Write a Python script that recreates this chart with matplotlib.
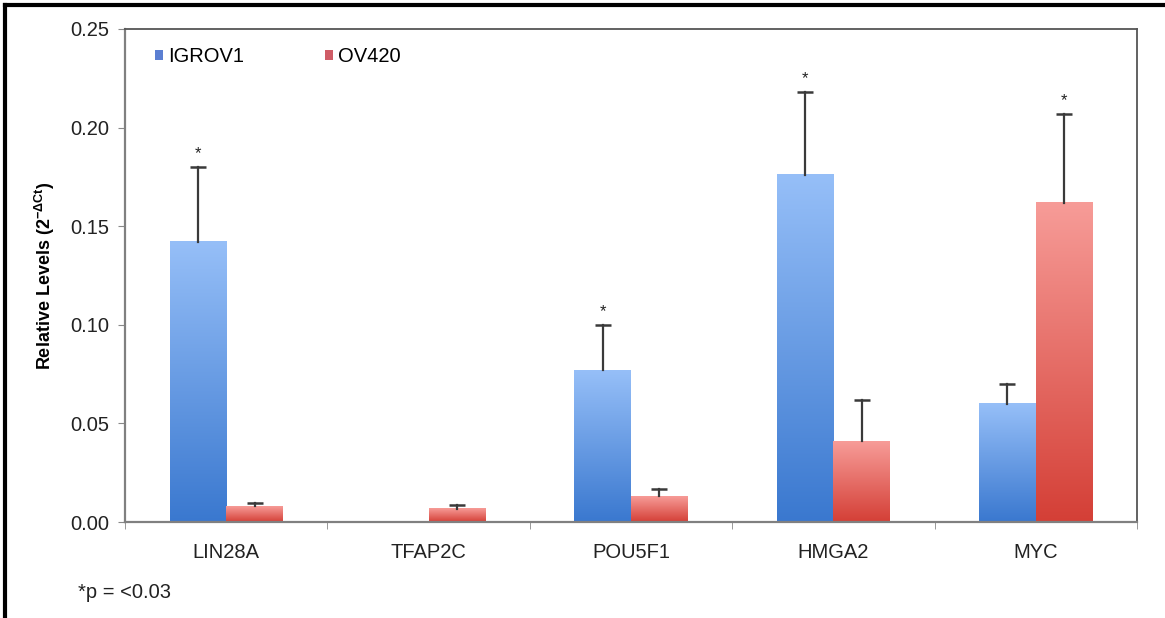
import numpy as np
import matplotlib
matplotlib.use('Agg')
import matplotlib.pyplot as plt
from matplotlib.colors import LinearSegmentedColormap
from matplotlib.patches import Patch
from matplotlib.lines import Line2D

plt.rcParams['font.family'] = ['Liberation Sans', 'DejaVu Sans']
plt.rcParams['mathtext.default'] = 'regular'

genes = ['LIN28A', 'TFAP2C', 'POU5F1', 'HMGA2', 'MYC']
igrov1 = [0.142, 0.0, 0.077, 0.176, 0.060]
igrov1_err = [0.038, 0.0, 0.023, 0.042, 0.010]
ov420 = [0.008, 0.0066, 0.013, 0.041, 0.162]
ov420_err = [0.0015, 0.0022, 0.0035, 0.021, 0.045]
igrov1_sig = [True, False, True, True, False]
ov420_sig = [False, False, False, False, True]

blue_map = LinearSegmentedColormap.from_list('b', ['#3a78cf', '#96bff8'])
red_map = LinearSegmentedColormap.from_list('r', ['#d43f36', '#f79c98'])

fig = plt.figure(figsize=(11.65, 6.18), dpi=100)
ax = fig.add_axes([125 / 1165, 1 - 522 / 618, (1137 - 125) / 1165, (522 - 29) / 618])

x = np.arange(len(genes))
w = 0.28
grad = np.linspace(0, 1, 256).reshape(-1, 1)
fs = 14.5


def grad_bars(xpos, vals, errs, cmap, sig):
    bars = ax.bar(xpos, vals, w, color='none', edgecolor='none', zorder=2)
    for b, v, e, s in zip(bars, vals, errs, sig):
        if v <= 0:
            continue
        x0 = b.get_x()
        xc = x0 + w / 2
        ax.imshow(grad, extent=[x0, x0 + w, 0, v], origin='lower', cmap=cmap,
                  aspect='auto', zorder=2, interpolation='bicubic')
        # upper error only, cap at the top
        ax.plot([xc, xc], [v, v + e], color='#3a3a3a', lw=1.6, zorder=3)
        ax.plot([xc], [v + e], marker='_', markersize=12, mew=1.8, color='#3a3a3a', zorder=3)
        if s:
            ax.text(xc, v + e + 0.003, '*', ha='center', va='bottom', fontsize=12, color='#222222')


grad_bars(x - w / 2, igrov1, igrov1_err, blue_map, igrov1_sig)
grad_bars(x + w / 2, ov420, ov420_err, red_map, ov420_sig)

ax.set_xlim(-0.5, len(genes) - 0.5)
ax.set_ylim(0, 0.25)
ax.set_yticks(np.arange(0, 0.2501, 0.05))
ax.set_yticklabels(['%.2f' % t for t in np.arange(0, 0.2501, 0.05)], fontsize=fs, color='#222222')
ax.set_xticks(x)
ax.set_xticklabels(genes, fontsize=fs, color='#222222')
ax.set_xticks(np.arange(-0.5, len(genes)), minor=True)
ax.tick_params(axis='x', which='major', length=0, pad=15)
ax.tick_params(axis='x', which='minor', length=5, direction='out', color='#888888')
ax.tick_params(axis='y', length=5, direction='out', color='#888888', pad=6)

for side in ['left', 'bottom']:
    ax.spines[side].set_color('#808080')
    ax.spines[side].set_linewidth(1.6)
for side in ['top', 'right']:
    ax.spines[side].set_color('#555555')
    ax.spines[side].set_linewidth(1.3)

ax.set_ylabel('Relative Levels (2$^{-\\Delta Ct}$)', fontsize=13, fontweight='bold', labelpad=10)

handles = [Patch(facecolor='#5b7fd2', edgecolor='none'), Patch(facecolor='#cf5c66', edgecolor='none')]
ax.legend(handles, ['IGROV1', 'OV420'], loc='upper left', ncol=2, frameon=False,
          fontsize=fs, handlelength=0.4, handleheight=0.4, handletextpad=0.25,
          columnspacing=4.0, bbox_to_anchor=(0.012, 1.0))

fig.text(78 / 1165, 1 - 592 / 618, '*p = <0.03', fontsize=fs, va='center', ha='left', color='#222222')

# outer frame
fig.add_artist(Line2D([5 / 1165, 5 / 1165], [0, 1 - 5 / 618], transform=fig.transFigure,
                      color='black', linewidth=3))
fig.add_artist(Line2D([5 / 1165, 1], [1 - 5 / 618, 1 - 5 / 618], transform=fig.transFigure,
                      color='black', linewidth=3))

fig.savefig('out.png', dpi=100)
